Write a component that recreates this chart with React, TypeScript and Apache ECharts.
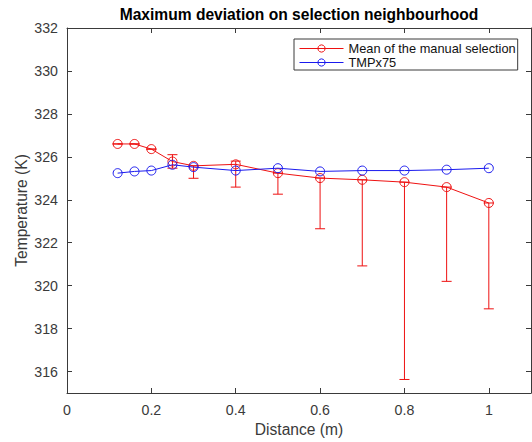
import React, { useEffect, useRef } from 'react';
import * as echarts from 'echarts';

const distance = [0.12, 0.16, 0.2, 0.25, 0.3, 0.4, 0.5, 0.6, 0.7, 0.8, 0.9, 1.0];
const meanManual = [326.6, 326.6, 326.36, 325.78, 325.58, 325.65, 325.24, 325.01, 324.93, 324.82, 324.59, 323.85];
const errLower = [326.6, 326.6, 326.36, 325.47, 325.0, 324.59, 324.26, 322.65, 320.92, 315.63, 320.2, 318.92];
const errUpper = [326.6, 326.6, 326.36, 326.1, 325.58, 325.8, 325.24, 325.01, 324.93, 324.82, 324.59, 323.85];
const tmpx75 = [325.24, 325.32, 325.36, 325.63, 325.52, 325.36, 325.47, 325.32, 325.36, 325.36, 325.4, 325.47];

const xTicks = [0, 0.2, 0.4, 0.6, 0.8, 1];
const yTicks = [316, 318, 320, 322, 324, 326, 328, 330, 332];

const FONT = '"Liberation Sans", Arial, Helvetica, sans-serif';
const AX = '#3a3a3a';
const RED = '#ee1111';
const BLUE = '#1a1aee';
const NONE = 'rgba(0,0,0,0)';

export default function App() {
  const ref = useRef<HTMLDivElement>(null);
  useEffect(() => {
    const chart = echarts.init(ref.current!, null, { renderer: 'svg' });
    const axisLine = { show: true, onZero: false, lineStyle: { color: AX, width: 1 } };
    const tickStyle = { color: AX, width: 1 };
    chart.setOption({
      animation: false,
      backgroundColor: '#fff',
      grid: { left: 67, top: 28, right: 1, bottom: 48 },
      graphic: [
        {
          type: 'text',
          x: 299,
          y: 14,
          style: {
            text: 'Maximum deviation on selection neighbourhood',
            fontFamily: FONT,
            fontSize: 15.6,
            fontWeight: 'bold',
            fill: '#000',
            align: 'center',
            verticalAlign: 'middle',
          },
        },
      ],
      legend: {
        data: ['Mean of the manual selection', 'TMPx75'],
        orient: 'vertical',
        left: 294,
        top: 39,
        backgroundColor: '#fff',
        borderColor: AX,
        borderWidth: 1,
        borderRadius: 0,
        padding: [3, 2, 1, 5],
        itemWidth: 44,
        itemHeight: 9,
        itemGap: 1,
        lineStyle: { width: 1 },
        itemStyle: { borderWidth: 1 },
        textStyle: { fontFamily: FONT, fontSize: 12.8, lineHeight: 13, color: '#111' },
      },
      xAxis: [
        {
          type: 'value',
          min: 0,
          max: 1.1,
          position: 'bottom',
          axisLine,
          axisTick: { show: true, inside: true, length: 5, customValues: xTicks, lineStyle: tickStyle },
          axisLabel: { customValues: xTicks, margin: 10, fontSize: 14.2, color: AX, fontFamily: FONT },
          splitLine: { show: false },
          name: 'Distance (m)',
          nameLocation: 'middle',
          nameGap: 28,
          nameMoveOverlap: false,
          nameTextStyle: { fontSize: 15.6, color: AX, fontFamily: FONT },
        },
        {
          type: 'value',
          min: 0,
          max: 1.1,
          position: 'top',
          axisLine,
          axisTick: { show: true, inside: true, length: 5, customValues: xTicks, lineStyle: tickStyle },
          axisLabel: { show: false },
          splitLine: { show: false },
        },
      ],
      yAxis: [
        {
          type: 'value',
          min: 315,
          max: 332,
          position: 'left',
          axisLine,
          axisTick: { show: true, inside: true, length: 5, customValues: yTicks, lineStyle: tickStyle },
          axisLabel: { customValues: yTicks, margin: 9, fontSize: 14.2, color: AX, fontFamily: FONT },
          splitLine: { show: false },
          name: 'Temperature (K)',
          nameLocation: 'middle',
          nameGap: 38,
          nameMoveOverlap: false,
          nameTextStyle: { fontSize: 15.6, color: AX, fontFamily: FONT },
        },
        {
          type: 'value',
          min: 315,
          max: 332,
          position: 'right',
          axisLine,
          axisTick: { show: true, inside: true, length: 5, customValues: yTicks, lineStyle: tickStyle },
          axisLabel: { show: false },
          splitLine: { show: false },
        },
      ],
      series: [
        {
          type: 'custom',
          z: 2,
          silent: true,
          xAxisIndex: 0,
          yAxisIndex: 0,
          encode: { x: 0, y: [1, 2] },
          data: distance.map((d, i) => [d, errLower[i], errUpper[i]]),
          renderItem: (params: any, api: any) => {
            const x = api.value(0);
            const lo = api.coord([x, api.value(1)]);
            const hi = api.coord([x, api.value(2)]);
            const w = 5;
            const style = { stroke: RED, lineWidth: 1, fill: 'none' };
            return {
              type: 'group',
              children: [
                { type: 'line', shape: { x1: lo[0], y1: lo[1], x2: hi[0], y2: hi[1] }, style },
                { type: 'line', shape: { x1: lo[0] - w, y1: lo[1], x2: lo[0] + w, y2: lo[1] }, style },
                { type: 'line', shape: { x1: hi[0] - w, y1: hi[1], x2: hi[0] + w, y2: hi[1] }, style },
              ],
            };
          },
        },
        {
          name: 'Mean of the manual selection',
          type: 'line',
          z: 3,
          xAxisIndex: 0,
          yAxisIndex: 0,
          data: distance.map((d, i) => [d, meanManual[i]]),
          symbol: 'circle',
          symbolSize: 9,
          color: RED,
          lineStyle: { color: RED, width: 1 },
          itemStyle: { color: NONE, borderColor: RED, borderWidth: 1 },
        },
        {
          name: 'TMPx75',
          type: 'line',
          z: 4,
          xAxisIndex: 0,
          yAxisIndex: 0,
          data: distance.map((d, i) => [d, tmpx75[i]]),
          symbol: 'circle',
          symbolSize: 9,
          color: BLUE,
          lineStyle: { color: BLUE, width: 1 },
          itemStyle: { color: NONE, borderColor: BLUE, borderWidth: 1 },
        },
      ],
    });
    return () => chart.dispose();
  }, []);
  return <div ref={ref} style={{ position: 'fixed', left: 0, top: 0, width: 532, height: 442 }} />;
}
